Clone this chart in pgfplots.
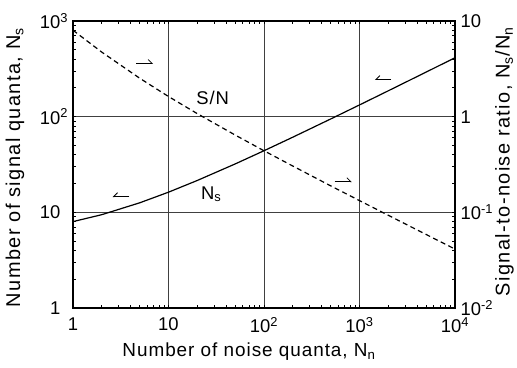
\documentclass[border=0pt]{standalone}
\usepackage{fontspec}
\setmainfont{Liberation Sans}
\newfontfamily\labx{Liberation Sans}[LetterSpace=5]
\newfontfamily\laby{Liberation Sans}[LetterSpace=7]
\usepackage{pgfplots}
\pgfplotsset{compat=1.18}
\usepackage{pgfplotstable}
\usetikzlibrary{arrows.meta}

% Noise quanta Nn, signal quanta Ns needed, and the ratio Ns/Nn
\pgfplotstableread{
Nn     Ns     SN
1      8.00   8.00
2      9.45   4.73
5      12.58  2.52
10     16.24  1.624
20     21.52  1.076
50     32.08  0.642
100    44.04  0.440
200    60.99  0.305
500    94.65  0.189
1000   132.6  0.1326
2000   186.3  0.0932
5000   292.8  0.0586
10000  412.8  0.0413
}\quanta

\newcommand{\tkf}{\fontsize{18.5}{20}\selectfont}
\newcommand{\hangsup}[1]{\rlap{\textsuperscript{#1}}}

\begin{document}
\begin{tikzpicture}
\useasboundingbox (0,0) rectangle (517bp,368bp);

\begin{axis}[
  at={(73bp,60bp)}, anchor=south west,
  scale only axis, width=382bp, height=287bp,
  xmode=log, ymode=log, xmin=1, xmax=10000, ymin=1, ymax=1000,
  axis line style={line width=1.1bp},
  tick align=inside, major tick length=0pt, minor tick length=3bp,
  tick style={line width=0.8bp, black},
  tick label style={font=\tkf},
  clip=false,
  xtick={1,10,100,1000,10000},
  xticklabels={1,10,10\textsuperscript{2},10\textsuperscript{3},10\textsuperscript{4}},
  ytick={1,10,100,1000},
  yticklabels={1,10,10\hangsup{2},10\hangsup{3}},
  ytick pos=left,
  grid=major, major grid style={line width=0.9bp, black!75},
  xticklabel style={yshift=-6bp},
  yticklabel style={xshift=-9bp},
]
\addplot[line width=1.2bp, black] table[x=Nn, y=Ns] {\quanta};
\node[font=\tkf\labx] at (axis cs:29,157) {S/N};
\node[font=\tkf\labx] at (axis cs:28,15.5) {N\textsubscript{s}};
% ends of the short harpoons that tell which scale each curve uses
\coordinate (l1a) at (axis cs:3.9,14.6);
\coordinate (l1b) at (axis cs:2.6,14.6);
\coordinate (l2a) at (axis cs:2150,244);
\coordinate (l2b) at (axis cs:1450,244);
\coordinate (r1a) at (axis cs:4.6,359);
\coordinate (r1b) at (axis cs:6.9,359);
\coordinate (r2a) at (axis cs:550,20.9);
\coordinate (r2b) at (axis cs:830,20.9);
\end{axis}

\begin{axis}[
  at={(73bp,60bp)}, anchor=south west,
  scale only axis, width=382bp, height=287bp,
  xmode=log, ymode=log, xmin=1, xmax=10000, ymin=0.01, ymax=10,
  axis line style={line width=1.1bp},
  tick align=inside, major tick length=0pt, minor tick length=3bp,
  tick style={line width=0.8bp, black},
  tick label style={font=\tkf},
  clip=false,
  axis y line*=right, axis x line=none,
  ytick={0.01,0.1,1,10},
  yticklabels={10\textsuperscript{-2},10\textsuperscript{-1},1,10},
  yticklabel style={xshift=2bp},
]
\addplot[line width=1.2bp, black, dash pattern=on 5bp off 3.5bp] table[x=Nn, y=SN] {\quanta};
\end{axis}

\begin{scope}[line width=0.8bp]
  \draw[-{Straight Barb[harpoon, swap, length=4bp, width=8bp]}] (l1a) -- (l1b);
  \draw[-{Straight Barb[harpoon, swap, length=4bp, width=8bp]}] (l2a) -- (l2b);
  \draw[-{Straight Barb[harpoon, length=4bp, width=8bp]}] (r1a) -- (r1b);
  \draw[-{Straight Barb[harpoon, length=4bp, width=8bp]}] (r2a) -- (r2b);
\end{scope}

\node[font=\fontsize{19}{21}\labx] at (249bp,16bp) {Number of noise quanta, N\textsubscript{n}};
\node[font=\fontsize{20}{22}\laby, rotate=90] at (15bp,200.5bp) {Number of signal quanta, N\textsubscript{s}};
\node[font=\fontsize{20}{22}\laby, rotate=90] at (504.5bp,206.5bp) {Signal-to-noise ratio, N\textsubscript{s}/N\textsubscript{n}};
\end{tikzpicture}
\end{document}
